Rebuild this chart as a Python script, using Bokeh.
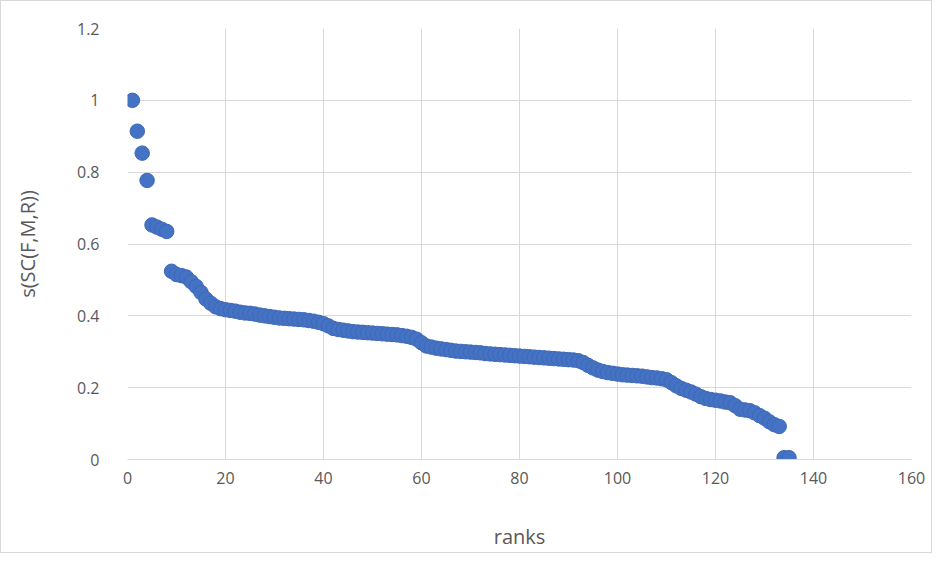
from bokeh.plotting import figure
from bokeh.models import Range1d, FixedTicker, NumeralTickFormatter, ColumnDataSource
from bokeh.embed import file_html
from bokeh.resources import INLINE

ranks = list(range(1, 136))
scores = [
    1.0, 0.914, 0.853, 0.777, 0.653, 0.647, 0.641, 0.635, 0.524, 0.515,
    0.512, 0.508, 0.495, 0.482, 0.465, 0.447, 0.435, 0.425, 0.42, 0.417,
    0.415, 0.413, 0.41, 0.408, 0.407, 0.405, 0.402, 0.4, 0.398, 0.396,
    0.394, 0.393, 0.392, 0.391, 0.39, 0.389, 0.387, 0.385, 0.382, 0.378,
    0.372, 0.365, 0.362, 0.36, 0.358, 0.356, 0.355, 0.354, 0.353, 0.352,
    0.351, 0.35, 0.349, 0.348, 0.347, 0.345, 0.343, 0.34, 0.335, 0.325,
    0.316, 0.313, 0.31, 0.308, 0.306, 0.304, 0.302, 0.301, 0.3, 0.299,
    0.298, 0.297, 0.295, 0.294, 0.293, 0.292, 0.291, 0.29, 0.289, 0.288,
    0.287, 0.286, 0.285, 0.284, 0.283, 0.282, 0.281, 0.28, 0.279, 0.278,
    0.277, 0.275, 0.27, 0.262, 0.255, 0.249, 0.245, 0.242, 0.24, 0.238,
    0.236, 0.235, 0.234, 0.233, 0.232, 0.23, 0.228, 0.227, 0.225, 0.222,
    0.214, 0.205, 0.198, 0.193, 0.188, 0.182, 0.175, 0.17, 0.167, 0.165,
    0.163, 0.16, 0.158, 0.15, 0.14, 0.138, 0.136, 0.13, 0.122, 0.115,
    0.105, 0.097, 0.092, 0.005, 0.005,
]
x_ticks = [0, 20, 40, 60, 80, 100, 120, 140, 160]
y_ticks = [0, 0.2, 0.4, 0.6, 0.8, 1.0, 1.2]
x_label = "ranks"
y_label = "s(SC(F,M,R))"

src = ColumnDataSource(dict(x=ranks, y=scores))

p = figure(width=932, height=553, output_backend="svg", toolbar_location=None,
           x_range=Range1d(0, 160), y_range=Range1d(0, 1.2),
           min_border_left=126, min_border_right=22, min_border_top=27, min_border_bottom=95)
p.styles = {"border": "1px solid #d9d9d9"}
p.outline_line_color = None
p.background_fill_color = "white"
p.border_fill_color = "white"

p.scatter("x", "y", source=src, size=14.5, fill_color="#4472C4", line_color="#3F69B5", line_width=1)

font = "Open Sans"
grid_col = "#d9d9d9"
for g in (p.xgrid, p.ygrid):
    g.grid_line_color = grid_col
    g.grid_line_width = 1
p.xgrid.ticker = FixedTicker(ticks=x_ticks)
p.ygrid.ticker = FixedTicker(ticks=y_ticks)

p.xaxis.ticker = FixedTicker(ticks=x_ticks)
p.yaxis.ticker = FixedTicker(ticks=y_ticks)
p.yaxis.formatter = NumeralTickFormatter(format="0.[0]")

for ax in (p.xaxis[0], p.yaxis[0]):
    ax.major_tick_line_color = None
    ax.minor_tick_line_color = None
    ax.major_label_text_font = font
    ax.major_label_text_font_size = "16px"
    ax.major_label_text_color = "#595959"
    ax.axis_label_text_font = font
    ax.axis_label_text_font_size = "20px"
    ax.axis_label_text_font_style = "normal"
    ax.axis_label_text_color = "#595959"

p.xaxis.axis_line_color = grid_col
p.yaxis.axis_line_color = None
p.xaxis.major_label_standoff = 6
p.yaxis.major_label_standoff = 22
p.xaxis.axis_label = x_label
p.yaxis.axis_label = y_label
p.xaxis.axis_label_standoff = 36
p.yaxis.axis_label_standoff = 33

open("out.html", "w").write(file_html(p, INLINE))
